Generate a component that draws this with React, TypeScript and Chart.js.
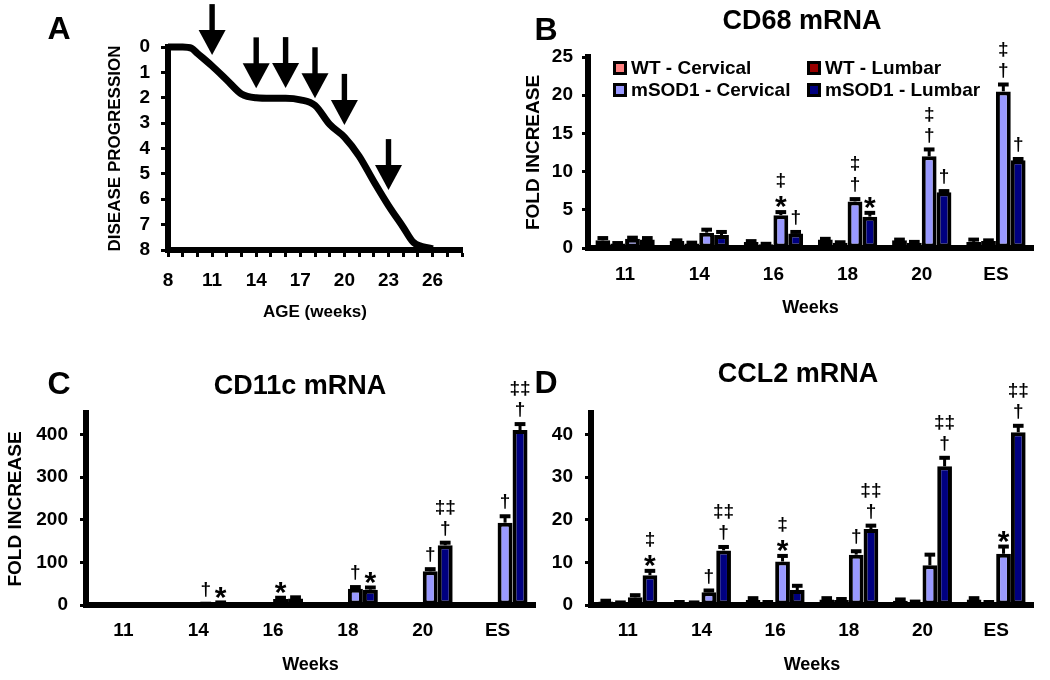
import React, { useEffect, useRef } from 'react';
import { Chart, registerables } from 'chart.js';

Chart.register(...registerables);

const FONT = '"Liberation Sans", Arial, Helvetica, sans-serif';
Chart.defaults.font.family = FONT;
Chart.defaults.color = '#000';

// ---------------- Panel A : disease progression ----------------
const AGE_WEEKS = [8, 9, 9.6, 10, 11, 12, 13, 14, 15, 16, 17, 18, 19, 20, 21, 22, 23, 24, 24.7, 26];
const PROGRESSION = [0, 0, 0.05, 0.25, 0.75, 1.3, 1.85, 2.0, 2.02, 2.02, 2.08, 2.3, 3.05, 3.55, 4.3, 5.3, 6.25, 7.1, 7.7, 7.95];
const ARROW_WEEKS = [11, 14, 16, 18, 20, 23];
const ARROW_TIPS = [0.32, 1.63, 1.62, 2.02, 3.07, 5.64];
const AGE_TICK_LABELS = [8, 11, 14, 17, 20, 23, 26];
const AGE_MINOR_TICKS = [8, 9, 10, 11, 12, 13, 14, 15, 16, 17, 18, 19, 20, 21, 22, 23, 24, 25, 26, 27, 28];
const PROGRESSION_TICKS = [0, 1, 2, 3, 4, 5, 6, 7, 8];

// ---------------- Bar panels ----------------
const WEEK_CATEGORIES = ['11', '14', '16', '18', '20', 'ES'];
const SERIES_NAMES = ['WT - Cervical', 'WT - Lumbar', 'mSOD1 - Cervical', 'mSOD1 - Lumbar'];
const SERIES_COLORS = ['#FF8080', '#990000', '#9999FF', '#000080'];
const NO_SIG: string[][] = [[], [], [], [], [], []];

// B: CD68 mRNA
const CD68_WT_CERV = [1.0, 0.9, 0.8, 1.1, 1.0, 0.8];
const CD68_WT_CERV_ERR = [0.3, 0.1, 0.1, 0.1, 0.1, 0.3];
const CD68_WT_LUMB = [0.6, 0.6, 0.5, 0.7, 0.7, 0.9];
const CD68_WT_LUMB_ERR = [0.05, 0.1, 0.05, 0.05, 0.1, 0.1];
const CD68_MSOD_CERV = [1.2, 2.0, 4.3, 6.1, 12.0, 20.5];
const CD68_MSOD_CERV_ERR = [0.15, 0.4, 0.4, 0.3, 0.9, 0.9];
const CD68_MSOD_LUMB = [1.1, 1.7, 1.9, 4.1, 7.3, 11.5];
const CD68_MSOD_LUMB_ERR = [0.2, 0.4, 0.2, 0.5, 0.15, 0.15];
const CD68_SIG_MSOD_CERV = [[], [], ['*', '‡'], ['†', '‡'], ['†', '‡'], ['†', '‡']];
const CD68_SIG_MSOD_LUMB = [[], [], ['†'], ['*'], ['†'], ['†']];
const CD68_TICKS = [0, 5, 10, 15, 20, 25];

// C: CD11c mRNA
const CD11C_WT_CERV = [1, 1, 1, 1, 1, 1];
const CD11C_WT_CERV_ERR = [0.5, 0.5, 0.5, 0.5, 0.5, 0.5];
const CD11C_WT_LUMB = [1, 1, 1, 1, 1, 1];
const CD11C_WT_LUMB_ERR = [0.5, 0.5, 0.5, 0.5, 0.5, 0.5];
const CD11C_MSOD_CERV = [1, 2, 14, 38, 79, 193];
const CD11C_MSOD_CERV_ERR = [0.5, 1, 3, 4, 5, 15];
const CD11C_MSOD_LUMB = [1, 5, 15, 36, 140, 410];
const CD11C_MSOD_LUMB_ERR = [0.5, 1, 3, 5, 6, 14];
const CD11C_SIG_MSOD_CERV = [[], ['†'], ['*'], ['†'], ['†'], ['†']];
const CD11C_SIG_MSOD_LUMB = [[], ['*'], [], ['*'], ['†', '‡‡'], ['†', '‡‡']];
const CD11C_TICKS = [0, 100, 200, 300, 400];

// D: CCL2 mRNA
const CCL2_WT_CERV = [0.8, 0.6, 1.2, 1.3, 1.0, 1.3];
const CCL2_WT_CERV_ERR = [0.2, 0.1, 0.4, 0.3, 0.3, 0.3];
const CCL2_WT_LUMB = [0.5, 0.5, 0.6, 1.2, 0.7, 0.6];
const CCL2_WT_LUMB_ERR = [0.1, 0.1, 0.1, 0.2, 0.1, 0.1];
const CCL2_MSOD_CERV = [1.8, 3.0, 10.2, 11.8, 9.3, 12.0];
const CCL2_MSOD_CERV_ERR = [0.5, 0.4, 1.3, 0.8, 2.5, 1.7];
const CCL2_MSOD_LUMB = [7.0, 12.8, 3.5, 17.8, 32.5, 40.5];
const CCL2_MSOD_LUMB_ERR = [1.0, 0.8, 1.0, 0.8, 2.0, 1.5];
const CCL2_SIG_MSOD_CERV = [[], ['†'], ['*', '‡'], ['†'], [], ['*']];
const CCL2_SIG_MSOD_LUMB = [['*', '‡'], ['†', '‡‡'], [], ['†', '‡‡'], ['†', '‡‡'], ['†', '‡‡']];
const CCL2_TICKS = [0, 10, 20, 30, 40];

// ---------------- plugins ----------------
const errorSigPlugin = {
  id: 'errorSig',
  afterDatasetsDraw(chart: any) {
    const { ctx } = chart;
    const yScale = chart.scales.y;
    ctx.save();
    chart.data.datasets.forEach((ds: any, di: number) => {
      const meta = chart.getDatasetMeta(di);
      meta.data.forEach((bar: any, i: number) => {
        const v = ds.data[i];
        const e = ds.errors[i];
        const x = bar.x;
        const top = yScale.getPixelForValue(v);
        const yErr = yScale.getPixelForValue(v + e);
        const capW = bar.width * 0.72;
        ctx.fillStyle = '#000';
        ctx.fillRect(x - 1.5, yErr, 3, top - yErr);
        ctx.fillRect(x - capW / 2, yErr - 2, capW, 4);
        let cursor = yErr - 2;
        (ds.sigs[i] || []).forEach((s: string) => {
          const star = s === '*';
          const size = star ? 30 : 19;
          ctx.font = `bold ${size}px ${FONT}`;
          ctx.textAlign = 'center';
          ctx.textBaseline = 'middle';
          if (star) {
            const c = cursor - 8;
            ctx.fillText(s, x, c + 0.2 * size);
            cursor -= 17;
          } else {
            const c = cursor - 10;
            ctx.fillText(s, x, c - 2);
            cursor -= 21;
          }
        });
      });
    });
    ctx.restore();
  },
};

const LEGEND_COL_X = [25, 219];
const LEGEND_ROW_Y = [11, 33];
const legendPlugin = {
  id: 'gridLegend',
  afterDraw(chart: any) {
    const { ctx, chartArea } = chart;
    ctx.save();
    ctx.font = `bold 19px ${FONT}`;
    ctx.textBaseline = 'middle';
    ctx.textAlign = 'left';
    chart.data.datasets.forEach((ds: any, i: number) => {
      const col = i % 2;
      const row = Math.floor(i / 2);
      const bx = chartArea.left + LEGEND_COL_X[col];
      const by = chartArea.top + LEGEND_ROW_Y[row];
      ctx.fillStyle = '#000';
      ctx.fillRect(bx, by - 7, 14, 14);
      ctx.fillStyle = ds.backgroundColor;
      ctx.fillRect(bx + 3, by - 4, 8, 8);
      ctx.fillStyle = '#000';
      ctx.fillText(ds.label, bx + 18, by + 1);
    });
    ctx.restore();
  },
};

const arrowPlugin = {
  id: 'arrows',
  afterDatasetsDraw(chart: any) {
    const { ctx } = chart;
    const { x, y } = chart.scales;
    ctx.save();
    ctx.fillStyle = '#000';
    ARROW_WEEKS.forEach((w, i) => {
      const px = x.getPixelForValue(w);
      const tip = y.getPixelForValue(ARROW_TIPS[i]);
      ctx.fillRect(px - 2.7, tip - 51, 5.4, 28);
      ctx.beginPath();
      ctx.moveTo(px - 13.5, tip - 25);
      ctx.lineTo(px + 13.5, tip - 25);
      ctx.lineTo(px, tip);
      ctx.closePath();
      ctx.fill();
    });
    ctx.restore();
  },
};

const tickFont = { family: FONT, size: 19, weight: 'bold' as const };

function makeLineConfig(W: number, H: number, area: any): any {
  return {
    type: 'line',
    data: {
      datasets: [
        {
          data: AGE_WEEKS.map((w, i) => ({ x: w, y: PROGRESSION[i] })),
          borderColor: '#000',
          borderWidth: 7,
          pointRadius: 0,
          cubicInterpolationMode: 'monotone',
          fill: false,
          clip: false,
        },
      ],
    },
    options: {
      responsive: false,
      animation: false,
      layout: { padding: { left: 0, top: area.T, right: W - area.R, bottom: 0 } },
      plugins: { legend: { display: false }, tooltip: { enabled: false } },
      scales: {
        x: {
          type: 'linear',
          min: 8,
          max: 28,
          afterBuildTicks: (s: any) => {
            s.ticks = AGE_MINOR_TICKS.map((v) => ({ value: v }));
          },
          ticks: {
            autoSkip: false,
            maxRotation: 0,
            color: '#000',
            font: tickFont,
            padding: 12,
            callback: (v: any) => (AGE_TICK_LABELS.includes(Number(v)) ? String(v) : ''),
          },
          grid: { display: true, drawOnChartArea: false, drawTicks: true, tickLength: 7, tickWidth: 3, tickColor: '#000' },
          border: { display: true, width: 6, color: '#000' },
          title: {
            display: true,
            text: 'AGE (weeks)',
            color: '#000',
            font: { family: FONT, size: 17, weight: 'bold' },
            padding: { top: 0, bottom: 7 },
          },
          afterFit: (s: any) => {
            s.height = H - area.B;
          },
        },
        y: {
          type: 'linear',
          reverse: true,
          min: 0,
          max: 8,
          afterBuildTicks: (s: any) => {
            s.ticks = PROGRESSION_TICKS.map((v) => ({ value: v }));
          },
          ticks: { color: '#000', font: tickFont, padding: 11, autoSkip: false },
          grid: { display: true, drawOnChartArea: false, drawTicks: true, tickLength: 7, tickWidth: 3, tickColor: '#000' },
          border: { display: true, width: 6, color: '#000' },
          title: {
            display: true,
            text: 'DISEASE PROGRESSION',
            color: '#000',
            font: { family: FONT, size: 17, weight: 'bold' },
            padding: { top: 105, bottom: 0 },
          },
          afterFit: (s: any) => {
            s.width = area.L;
          },
        },
      },
    },
    plugins: [arrowPlugin],
  };
}

type BarPanel = {
  values: number[][];
  errors: number[][];
  sigs: string[][][];
  yMax: number;
  yTicks: number[];
  W: number;
  H: number;
  area: { L: number; T: number; R: number; B: number };
  yTitle: string | null;
  yTitlePad: number;
  yTickPad: number;
  xTickPad: number;
  xTitlePad: number;
  legend: boolean;
};

function makeBarConfig(p: BarPanel): any {
  return {
    type: 'bar',
    data: {
      labels: WEEK_CATEGORIES,
      datasets: SERIES_NAMES.map((name, i) => ({
        label: name,
        data: p.values[i],
        errors: p.errors[i],
        sigs: p.sigs[i],
        backgroundColor: SERIES_COLORS[i],
        borderColor: '#000',
        borderWidth: 4,
        borderSkipped: false,
        categoryPercentage: 0.8,
        barPercentage: 1.0,
      })),
    },
    options: {
      responsive: false,
      animation: false,
      layout: { padding: { left: 0, top: p.area.T, right: p.W - p.area.R, bottom: 0 } },
      plugins: { legend: { display: false }, tooltip: { enabled: false }, title: { display: false } },
      scales: {
        x: {
          grid: { display: false, drawTicks: false, tickLength: 0 },
          border: { display: true, color: '#000', width: 6 },
          ticks: { color: '#000', font: tickFont, padding: p.xTickPad, maxRotation: 0, autoSkip: false },
          title: {
            display: true,
            text: 'Weeks',
            color: '#000',
            font: { family: FONT, size: 18, weight: 'bold' },
            padding: { top: 0, bottom: p.xTitlePad },
          },
          afterFit: (s: any) => {
            s.height = p.H - p.area.B;
          },
        },
        y: {
          min: 0,
          max: p.yMax,
          afterBuildTicks: (s: any) => {
            s.ticks = p.yTicks.map((v) => ({ value: v }));
          },
          grid: { display: true, drawOnChartArea: false, drawTicks: true, tickLength: 6, tickWidth: 3, tickColor: '#000' },
          border: { display: true, color: '#000', width: 6 },
          ticks: { color: '#000', font: tickFont, padding: p.yTickPad, autoSkip: false },
          title: p.yTitle
            ? {
                display: true,
                text: p.yTitle,
                color: '#000',
                font: { family: FONT, size: 19, weight: 'bold' },
                padding: { top: p.yTitlePad, bottom: 0 },
              }
            : { display: false },
          afterFit: (s: any) => {
            s.width = p.area.L;
          },
        },
      },
    },
    plugins: p.legend ? [errorSigPlugin, legendPlugin] : [errorSigPlugin],
  };
}

function ChartBox({ left, top, width, height, make }: { left: number; top: number; width: number; height: number; make: () => any }) {
  const ref = useRef<HTMLCanvasElement>(null);
  useEffect(() => {
    const chart = new Chart(ref.current as HTMLCanvasElement, make());
    return () => chart.destroy();
  }, []);
  return (
    <div style={{ position: 'absolute', left, top, width, height }}>
      <canvas ref={ref} width={width} height={height} style={{ display: 'block', width, height }} />
    </div>
  );
}

function Label({ x, y, size, text }: { x: number; y: number; size: number; text: string }) {
  return (
    <div
      style={{
        position: 'absolute',
        left: x,
        top: y,
        transform: 'translate(-50%, -50%)',
        font: `bold ${size}px ${FONT}`,
        lineHeight: 1,
        whiteSpace: 'nowrap',
        color: '#000',
      }}
    >
      {text}
    </div>
  );
}

export default function App() {
  return (
    <div style={{ position: 'absolute', left: 0, top: 0, width: 1050, height: 680, background: '#fff', overflow: 'hidden' }}>
      <ChartBox left={0} top={0} width={520} height={330} make={() => makeLineConfig(520, 330, { L: 168, T: 47, R: 462, B: 250 })} />
      <ChartBox
        left={520}
        top={0}
        width={530}
        height={330}
        make={() =>
          makeBarConfig({
            values: [CD68_WT_CERV, CD68_WT_LUMB, CD68_MSOD_CERV, CD68_MSOD_LUMB],
            errors: [CD68_WT_CERV_ERR, CD68_WT_LUMB_ERR, CD68_MSOD_CERV_ERR, CD68_MSOD_LUMB_ERR],
            sigs: [NO_SIG, NO_SIG, CD68_SIG_MSOD_CERV, CD68_SIG_MSOD_LUMB],
            yMax: 25,
            yTicks: CD68_TICKS,
            W: 530,
            H: 330,
            area: { L: 68, T: 57, R: 513, B: 248 },
            yTitle: 'FOLD INCREASE',
            yTitlePad: 2,
            yTickPad: 9,
            xTickPad: 15,
            xTitlePad: 11,
            legend: true,
          })
        }
      />
      <ChartBox
        left={0}
        top={330}
        width={545}
        height={350}
        make={() =>
          makeBarConfig({
            values: [CD11C_WT_CERV, CD11C_WT_LUMB, CD11C_MSOD_CERV, CD11C_MSOD_LUMB],
            errors: [CD11C_WT_CERV_ERR, CD11C_WT_LUMB_ERR, CD11C_MSOD_CERV_ERR, CD11C_MSOD_LUMB_ERR],
            sigs: [NO_SIG, NO_SIG, CD11C_SIG_MSOD_CERV, CD11C_SIG_MSOD_LUMB],
            yMax: 450,
            yTicks: CD11C_TICKS,
            W: 545,
            H: 350,
            area: { L: 86, T: 83, R: 535, B: 275 },
            yTitle: 'FOLD INCREASE',
            yTitlePad: 4,
            yTickPad: 12,
            xTickPad: 14,
            xTitlePad: 4,
            legend: false,
          })
        }
      />
      <ChartBox
        left={540}
        top={330}
        width={510}
        height={350}
        make={() =>
          makeBarConfig({
            values: [CCL2_WT_CERV, CCL2_WT_LUMB, CCL2_MSOD_CERV, CCL2_MSOD_LUMB],
            errors: [CCL2_WT_CERV_ERR, CCL2_WT_LUMB_ERR, CCL2_MSOD_CERV_ERR, CCL2_MSOD_LUMB_ERR],
            sigs: [NO_SIG, NO_SIG, CCL2_SIG_MSOD_CERV, CCL2_SIG_MSOD_LUMB],
            yMax: 45,
            yTicks: CCL2_TICKS,
            W: 510,
            H: 350,
            area: { L: 51, T: 83, R: 493, B: 275 },
            yTitle: null,
            yTitlePad: 0,
            yTickPad: 12,
            xTickPad: 14,
            xTitlePad: 4,
            legend: false,
          })
        }
      />
      <Label x={59} y={28} size={32} text="A" />
      <Label x={546} y={29} size={32} text="B" />
      <Label x={59} y={383} size={32} text="C" />
      <Label x={546} y={382} size={32} text="D" />
      <Label x={802} y={20} size={27} text="CD68 mRNA" />
      <Label x={300} y={385} size={27} text="CD11c mRNA" />
      <Label x={798} y={373} size={27} text="CCL2 mRNA" />
    </div>
  );
}
